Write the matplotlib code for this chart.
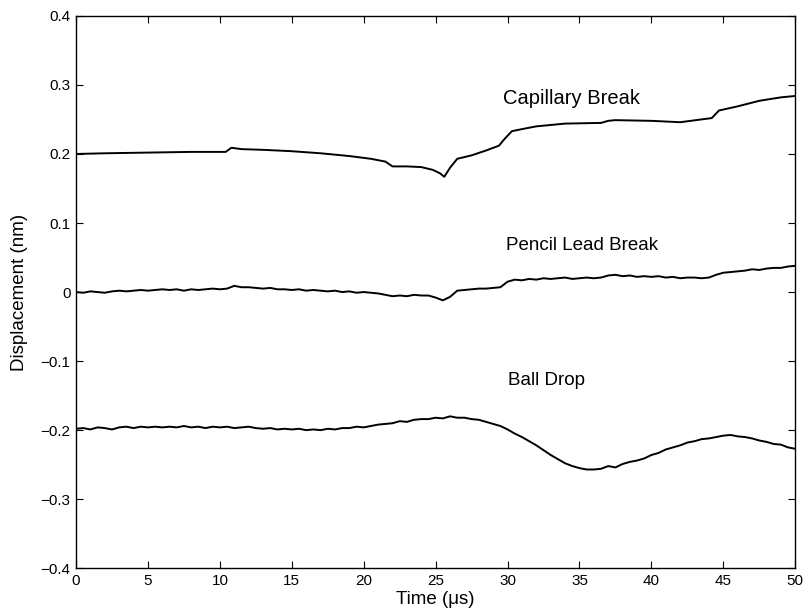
import numpy as np
import matplotlib.pyplot as plt

plt.rcParams['font.family'] = ['Liberation Sans', 'DejaVu Sans']

# capillary break (smooth, read at feature points)
t_cap = [0, 2, 5, 8, 10.4, 10.8, 11.5, 13, 15, 17, 19, 20.5, 21.5, 22.0, 23, 24,
         24.8, 25.3, 25.6, 26.0, 26.5, 27.5, 28.5, 29.4, 29.8, 30.3, 31, 32, 34,
         36.5, 37.0, 37.5, 40, 42, 44.2, 44.7, 46, 47.5, 49, 50]
v_cap = [0.200, 0.201, 0.202, 0.203, 0.203, 0.209, 0.207, 0.206, 0.204, 0.201,
         0.197, 0.193, 0.189, 0.182, 0.182, 0.181, 0.177, 0.172, 0.167, 0.180,
         0.193, 0.198, 0.205, 0.212, 0.222, 0.233, 0.236, 0.240, 0.244, 0.245,
         0.248, 0.249, 0.248, 0.246, 0.252, 0.263, 0.269, 0.277, 0.282, 0.284]

# pencil lead break and ball drop, read every 0.5 us
t_grid = np.arange(0, 50.5, 0.5)
v_pencil = [0.000, -0.001, 0.001, 0.000, -0.001, 0.001, 0.002, 0.001, 0.002, 0.003,
            0.002, 0.003, 0.004, 0.003, 0.004, 0.002, 0.004, 0.003, 0.004, 0.005,
            0.004, 0.005, 0.009, 0.007, 0.007, 0.006, 0.005, 0.006, 0.004, 0.004,
            0.003, 0.004, 0.002, 0.003, 0.002, 0.001, 0.002, 0.000, 0.001, -0.001,
            0.000, -0.001, -0.002, -0.004, -0.006, -0.005, -0.006, -0.004, -0.005, -0.005,
            -0.008, -0.012, -0.007, 0.002, 0.003, 0.004, 0.005, 0.005, 0.006, 0.007,
            0.015, 0.018, 0.017, 0.019, 0.018, 0.020, 0.019, 0.020, 0.021, 0.019,
            0.020, 0.021, 0.020, 0.021, 0.024, 0.025, 0.023, 0.024, 0.022, 0.023,
            0.022, 0.023, 0.021, 0.022, 0.020, 0.021, 0.021, 0.020, 0.021, 0.025,
            0.028, 0.029, 0.030, 0.031, 0.033, 0.032, 0.034, 0.035, 0.035, 0.037,
            0.038]
v_ball = [-0.198, -0.197, -0.199, -0.196, -0.197, -0.199, -0.196, -0.195, -0.197, -0.195,
          -0.196, -0.195, -0.196, -0.195, -0.196, -0.194, -0.196, -0.195, -0.197, -0.195,
          -0.196, -0.195, -0.197, -0.196, -0.195, -0.197, -0.198, -0.197, -0.199, -0.198,
          -0.199, -0.198, -0.200, -0.199, -0.200, -0.198, -0.199, -0.197, -0.197, -0.195,
          -0.196, -0.194, -0.192, -0.191, -0.190, -0.187, -0.188, -0.185, -0.184, -0.184,
          -0.182, -0.183, -0.180, -0.182, -0.182, -0.184, -0.185, -0.188, -0.191, -0.194,
          -0.199, -0.205, -0.210, -0.216, -0.222, -0.229, -0.236, -0.242, -0.248, -0.252,
          -0.255, -0.257, -0.257, -0.256, -0.252, -0.254, -0.249, -0.246, -0.244, -0.241,
          -0.236, -0.233, -0.228, -0.225, -0.222, -0.218, -0.216, -0.213, -0.212, -0.210,
          -0.208, -0.207, -0.209, -0.210, -0.212, -0.215, -0.217, -0.220, -0.221, -0.225,
          -0.227]

x_ticks = [0, 5, 10, 15, 20, 25, 30, 35, 40, 45, 50]
y_ticks = [-0.4, -0.3, -0.2, -0.1, 0, 0.1, 0.2, 0.3, 0.4]
y_labels = ['\u22120.4', '\u22120.3', '\u22120.2', '\u22120.1', '0', '0.1', '0.2', '0.3', '0.4']

fig = plt.figure(figsize=(8.09, 6.11), dpi=100)
ax = fig.add_axes([0.094, 0.070, 0.889, 0.904])

ax.plot(t_cap, v_cap, c='k', lw=1.4)
ax.plot(t_grid, v_pencil, c='k', lw=1.4)
ax.plot(t_grid, v_ball, c='k', lw=1.4)

ax.text(29.7, 0.281, 'Capillary Break', fontsize=14.5, va='center')
ax.text(29.9, 0.068, 'Pencil Lead Break', fontsize=13.5, va='center')
ax.text(30.0, -0.128, 'Ball Drop', fontsize=13.5, va='center')

ax.set_xlim(0, 50)
ax.set_ylim(-0.4, 0.4)
ax.set_xticks(x_ticks)
ax.set_yticks(y_ticks)
ax.set_yticklabels(y_labels)
ax.tick_params(direction='in', top=True, right=True, length=5, labelsize=11, pad=4)
for s in ax.spines.values():
    s.set_linewidth(1.0)

ax.set_xlabel('Time (\u03bcs)', fontsize=13.5, labelpad=2)
ax.set_ylabel('Displacement (nm)', fontsize=13.5, labelpad=9)

fig.savefig('out.png', dpi=100)
